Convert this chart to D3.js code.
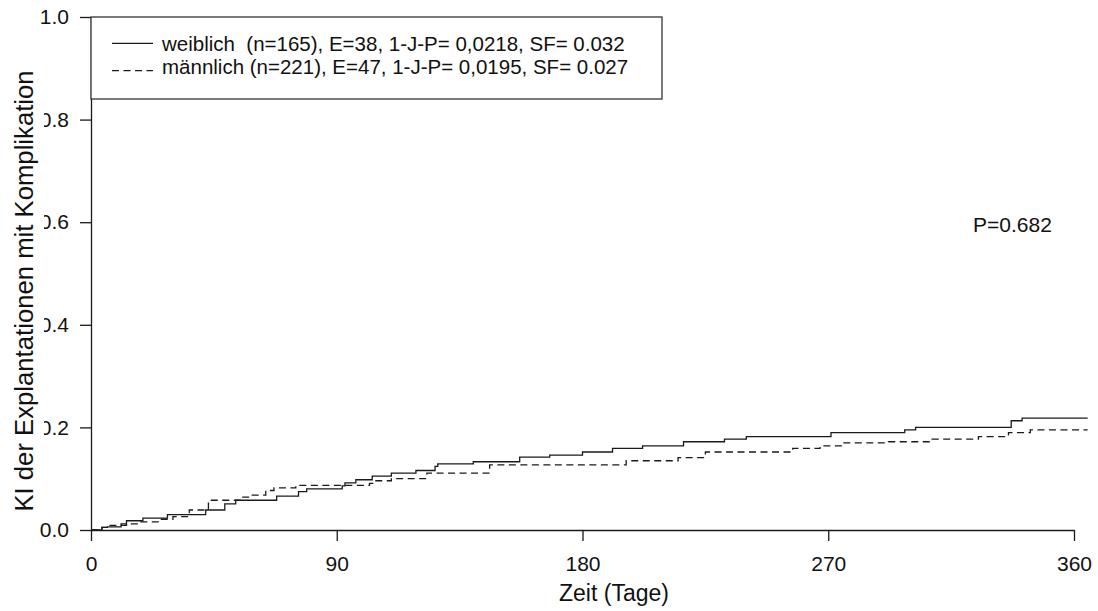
<!DOCTYPE html>
<html>
<head>
<meta charset="utf-8">
<script src="https://cdn.jsdelivr.net/npm/d3@7"></script>
<style>
  body { margin: 0; background: #fff; }
  svg text { font-family: Arial, "Liberation Sans", sans-serif; fill: #111; }
</style>
</head>
<body>
<svg id="kiChart" width="1098" height="611"></svg>
<script>
// Stufenpunkte: Tage und kumulative Inzidenz (KI)
const weiblichDays = [0, 4, 6, 11, 13, 19, 28, 42, 49, 53, 68, 76, 79, 92, 93, 97, 103, 110, 119, 126, 127, 140, 157, 168, 180, 191, 202, 217, 232, 240, 271, 298, 302, 337, 341, 365];
const weiblichKI   = [0, 0.005, 0.006, 0.012, 0.018, 0.023, 0.030, 0.039, 0.051, 0.058, 0.066, 0.075, 0.080, 0.086, 0.092, 0.098, 0.105, 0.111, 0.116, 0.124, 0.129, 0.133, 0.142, 0.146, 0.152, 0.159, 0.164, 0.172, 0.177, 0.182, 0.190, 0.195, 0.200, 0.213, 0.218, 0.218];

const maennlichDays = [0, 4, 7, 13, 18, 25, 30, 36, 43, 55, 59, 64, 67, 75, 102, 104, 110, 123, 146, 196, 215, 225, 257, 267, 275, 292, 308, 325, 336, 344, 365];
const maennlichKI   = [0, 0.005, 0.009, 0.012, 0.016, 0.021, 0.026, 0.039, 0.058, 0.064, 0.068, 0.077, 0.082, 0.087, 0.091, 0.096, 0.100, 0.111, 0.127, 0.135, 0.141, 0.152, 0.159, 0.164, 0.170, 0.172, 0.177, 0.182, 0.190, 0.195, 0.195];

const xTicks = [0, 90, 180, 270, 360];
const yTicks = [0, 0.2, 0.4, 0.6, 0.8, 1.0];
const legendLabels = [
  "weiblich  (n=165), E=38, 1-J-P= 0,0218, SF= 0.032",
  "männlich (n=221), E=47, 1-J-P= 0,0195, SF= 0.027"
];
const pText = "P=0.682";

function buildKIChart(svgid) {
  const svg = d3.select(svgid);
  const ink = "#1a1a1a";

  const x = d3.scaleLinear().domain([0, 360]).range([91, 1074]);
  const y = d3.scaleLinear().domain([0, 1]).range([530, 17]);

  // Kurven
  const series = [
    { days: weiblichDays, ki: weiblichKI, dash: null },
    { days: maennlichDays, ki: maennlichKI, dash: "7,4.5" }
  ];
  const line = d3.line()
    .x(d => x(d[0]))
    .y(d => y(d[1]))
    .curve(d3.curveStepAfter);

  series.forEach(s => {
    svg.append("path")
      .datum(d3.zip(s.days, s.ki))
      .attr("fill", "none")
      .attr("stroke", ink)
      .attr("stroke-width", 1.3)
      .attr("stroke-dasharray", s.dash)
      .attr("d", line);
  });

  // X-Achse
  const gx = svg.append("g")
    .attr("transform", "translate(0,530)")
    .call(d3.axisBottom(x).tickValues(xTicks).tickSize(11).tickSizeOuter(0).tickPadding(15));
  gx.attr("font-size", 21).attr("font-family", null);

  // Y-Achse
  const gy = svg.append("g")
    .attr("transform", "translate(91,0)")
    .call(d3.axisLeft(y).tickValues(yTicks).tickFormat(d3.format(".1f")).tickSize(11).tickSizeOuter(0).tickPadding(11));
  gy.attr("font-size", 21).attr("font-family", null);

  svg.selectAll(".domain, .tick line")
    .attr("stroke", ink)
    .attr("stroke-width", 1.3);
  svg.selectAll(".tick text").attr("fill", ink);

  // Achsentitel (mit weissem Hintergrund, der die Ticklabels teilweise verdeckt)
  svg.append("rect")
    .attr("x", 0).attr("y", 68)
    .attr("width", 44).attr("height", 446)
    .attr("fill", "#fff");
  svg.append("text")
    .attr("transform", "translate(33,291) rotate(-90)")
    .attr("text-anchor", "middle")
    .style("font-size", "25.7px")
    .text("KI der Explantationen mit Komplikation");

  svg.append("text")
    .attr("x", 614).attr("y", 601)
    .attr("text-anchor", "middle")
    .style("font-size", "23px")
    .text("Zeit (Tage)");

  // Legende
  svg.append("rect")
    .attr("x", 91).attr("y", 17)
    .attr("width", 571).attr("height", 82)
    .attr("fill", "#fff")
    .attr("stroke", "#333")
    .attr("stroke-width", 1.3);

  const rowsY = [50.7, 74];
  const lineY = [43.3, 70.7];
  legendLabels.forEach((lab, i) => {
    svg.append("line")
      .attr("x1", 112).attr("x2", 153)
      .attr("y1", lineY[i]).attr("y2", lineY[i])
      .attr("stroke", ink)
      .attr("stroke-width", 1.3)
      .attr("stroke-dasharray", series[i].dash);
    svg.append("text")
      .attr("x", 162).attr("y", rowsY[i])
      .style("font-size", "20.5px")
      .style("white-space", "pre")
      .text(lab);
  });

  svg.append("text")
    .attr("x", 973).attr("y", 231.5)
    .style("font-size", "21px")
    .text(pText);
}

buildKIChart("#kiChart");
</script>
</body>
</html>
